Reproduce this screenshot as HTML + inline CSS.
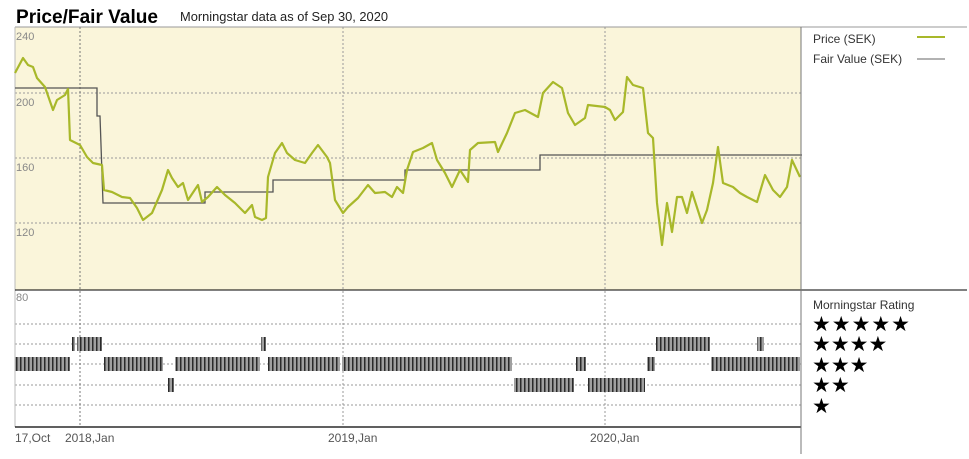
<!DOCTYPE html>
<html><head><meta charset="utf-8"><style>
body{margin:0;background:#fff;width:969px;height:454px;overflow:hidden;font-family:"Liberation Sans",sans-serif}
</style></head><body>
<svg width="969" height="454" viewBox="0 0 969 454" xmlns="http://www.w3.org/2000/svg" font-family="Liberation Sans, sans-serif">
<defs>
<pattern id="h" width="4" height="14" patternUnits="userSpaceOnUse"><rect width="4" height="14" fill="#a0a0a0"/><rect x="0" width="1.5" height="14" fill="#2a2a2a"/></pattern>
</defs>
<text x="16" y="23" font-size="19" font-weight="bold" fill="#000" textLength="142" lengthAdjust="spacingAndGlyphs">Price/Fair Value</text>
<text x="180" y="21" font-size="13" fill="#222" textLength="208" lengthAdjust="spacingAndGlyphs">Morningstar data as of Sep 30, 2020</text>
<rect x="15" y="27" width="786" height="263" fill="#faf5da"/>
<line x1="15" y1="27" x2="967" y2="27" stroke="#999"/>
<g stroke="#999" stroke-dasharray="2,2" stroke-width="1">
<line x1="15" y1="93" x2="801" y2="93"/><line x1="15" y1="158" x2="801" y2="158"/><line x1="15" y1="223" x2="801" y2="223"/>
<line x1="15" y1="324" x2="801" y2="324"/><line x1="15" y1="344" x2="801" y2="344"/><line x1="15" y1="364" x2="801" y2="364"/><line x1="15" y1="385" x2="801" y2="385"/><line x1="15" y1="405" x2="801" y2="405"/>
<line x1="80" y1="27" x2="80" y2="427" stroke="#777"/><line x1="343" y1="27" x2="343" y2="427"/><line x1="605" y1="27" x2="605" y2="427"/>
</g>
<line x1="15" y1="27" x2="15" y2="427" stroke="#bbb"/>
<g font-size="11" fill="#888"><text x="16" y="40">240</text><text x="16" y="106">200</text><text x="16" y="171">160</text><text x="16" y="236">120</text><text x="16" y="301">80</text></g>
<polyline fill="none" stroke="#555" stroke-width="1.3" points="15,88 97,88 97,116 100,116 103,203 205,203 205,192 273,192 273,180 405,180 405,170 540,170 540,155 802,155"/>
<polyline fill="none" stroke="#a8b82a" stroke-width="2.2" stroke-linejoin="round" points="15,73 23,58 28,65 33,67 37,78 45,87 53,110 57,100 65,95 68,89 70,140 80,145 87,157 93,163 102,165 104,190 112,192 122,197 130,198 137,208 143,220 152,213 162,190 168,170 172,178 178,187 183,183 188,200 198,185 202,202 208,197 217,187 225,195 235,203 245,213 252,205 255,217 262,220 266,218 268,177 275,153 282,143 287,153 295,160 305,163 312,153 318,145 327,157 330,163 335,200 343,213 348,207 358,198 368,185 375,193 385,192 392,197 397,187 403,193 407,170 413,152 423,148 432,143 437,160 445,173 452,187 460,170 468,182 470,150 478,143 495,142 498,152 507,133 515,113 525,110 538,117 543,93 553,82 562,88 568,113 575,125 585,118 588,105 605,107 610,110 615,120 623,112 627,77 633,85 643,88 648,133 653,138 657,203 662,245 667,203 672,232 677,197 682,197 687,213 692,192 702,223 707,210 713,183 718,147 723,183 733,187 740,193 747,197 757,202 765,175 773,190 780,197 787,187 792,160 800,177"/>
<g fill="url(#h)">
<rect x="72" y="337" width="3" height="14"/><rect x="77" y="337" width="25" height="14"/><rect x="261" y="337" width="5" height="14"/><rect x="656" y="337" width="54" height="14"/><rect x="757" y="337" width="7" height="14"/>
<rect x="15" y="357" width="55" height="14"/><rect x="104" y="357" width="59" height="14"/><rect x="175" y="357" width="85" height="14"/><rect x="268" y="357" width="72" height="14"/><rect x="342" y="357" width="170" height="14"/><rect x="576" y="357" width="10" height="14"/><rect x="647" y="357" width="8" height="14"/><rect x="711" y="357" width="89" height="14"/>
<rect x="168" y="378" width="6" height="14"/><rect x="514" y="378" width="60" height="14"/><rect x="588" y="378" width="57" height="14"/>
</g>
<line x1="15" y1="290" x2="967" y2="290" stroke="#000"/>
<line x1="15" y1="427" x2="801" y2="427" stroke="#000" stroke-width="1.3"/>
<line x1="801" y1="27" x2="801" y2="454" stroke="#777"/>
<g font-size="12" fill="#555"><text x="15" y="442">17,Oct</text><text x="65" y="442">2018,Jan</text><text x="328" y="442">2019,Jan</text><text x="590" y="442">2020,Jan</text></g>
<g font-size="12" fill="#333"><text x="813" y="43">Price (SEK)</text><text x="813" y="63">Fair Value (SEK)</text><text x="813" y="309">Morningstar Rating</text></g>
<line x1="917" y1="37" x2="945" y2="37" stroke="#a8b82a" stroke-width="2"/>
<line x1="917" y1="59" x2="945" y2="59" stroke="#666" stroke-width="1"/>
<g font-size="21" fill="#000"><text x="812" y="331" textLength="98" lengthAdjust="spacing">★★★★★</text><text x="812" y="351">★★★★</text><text x="812" y="372">★★★</text><text x="812" y="392">★★</text><text x="812" y="413">★</text></g>
</svg>
</body></html>
